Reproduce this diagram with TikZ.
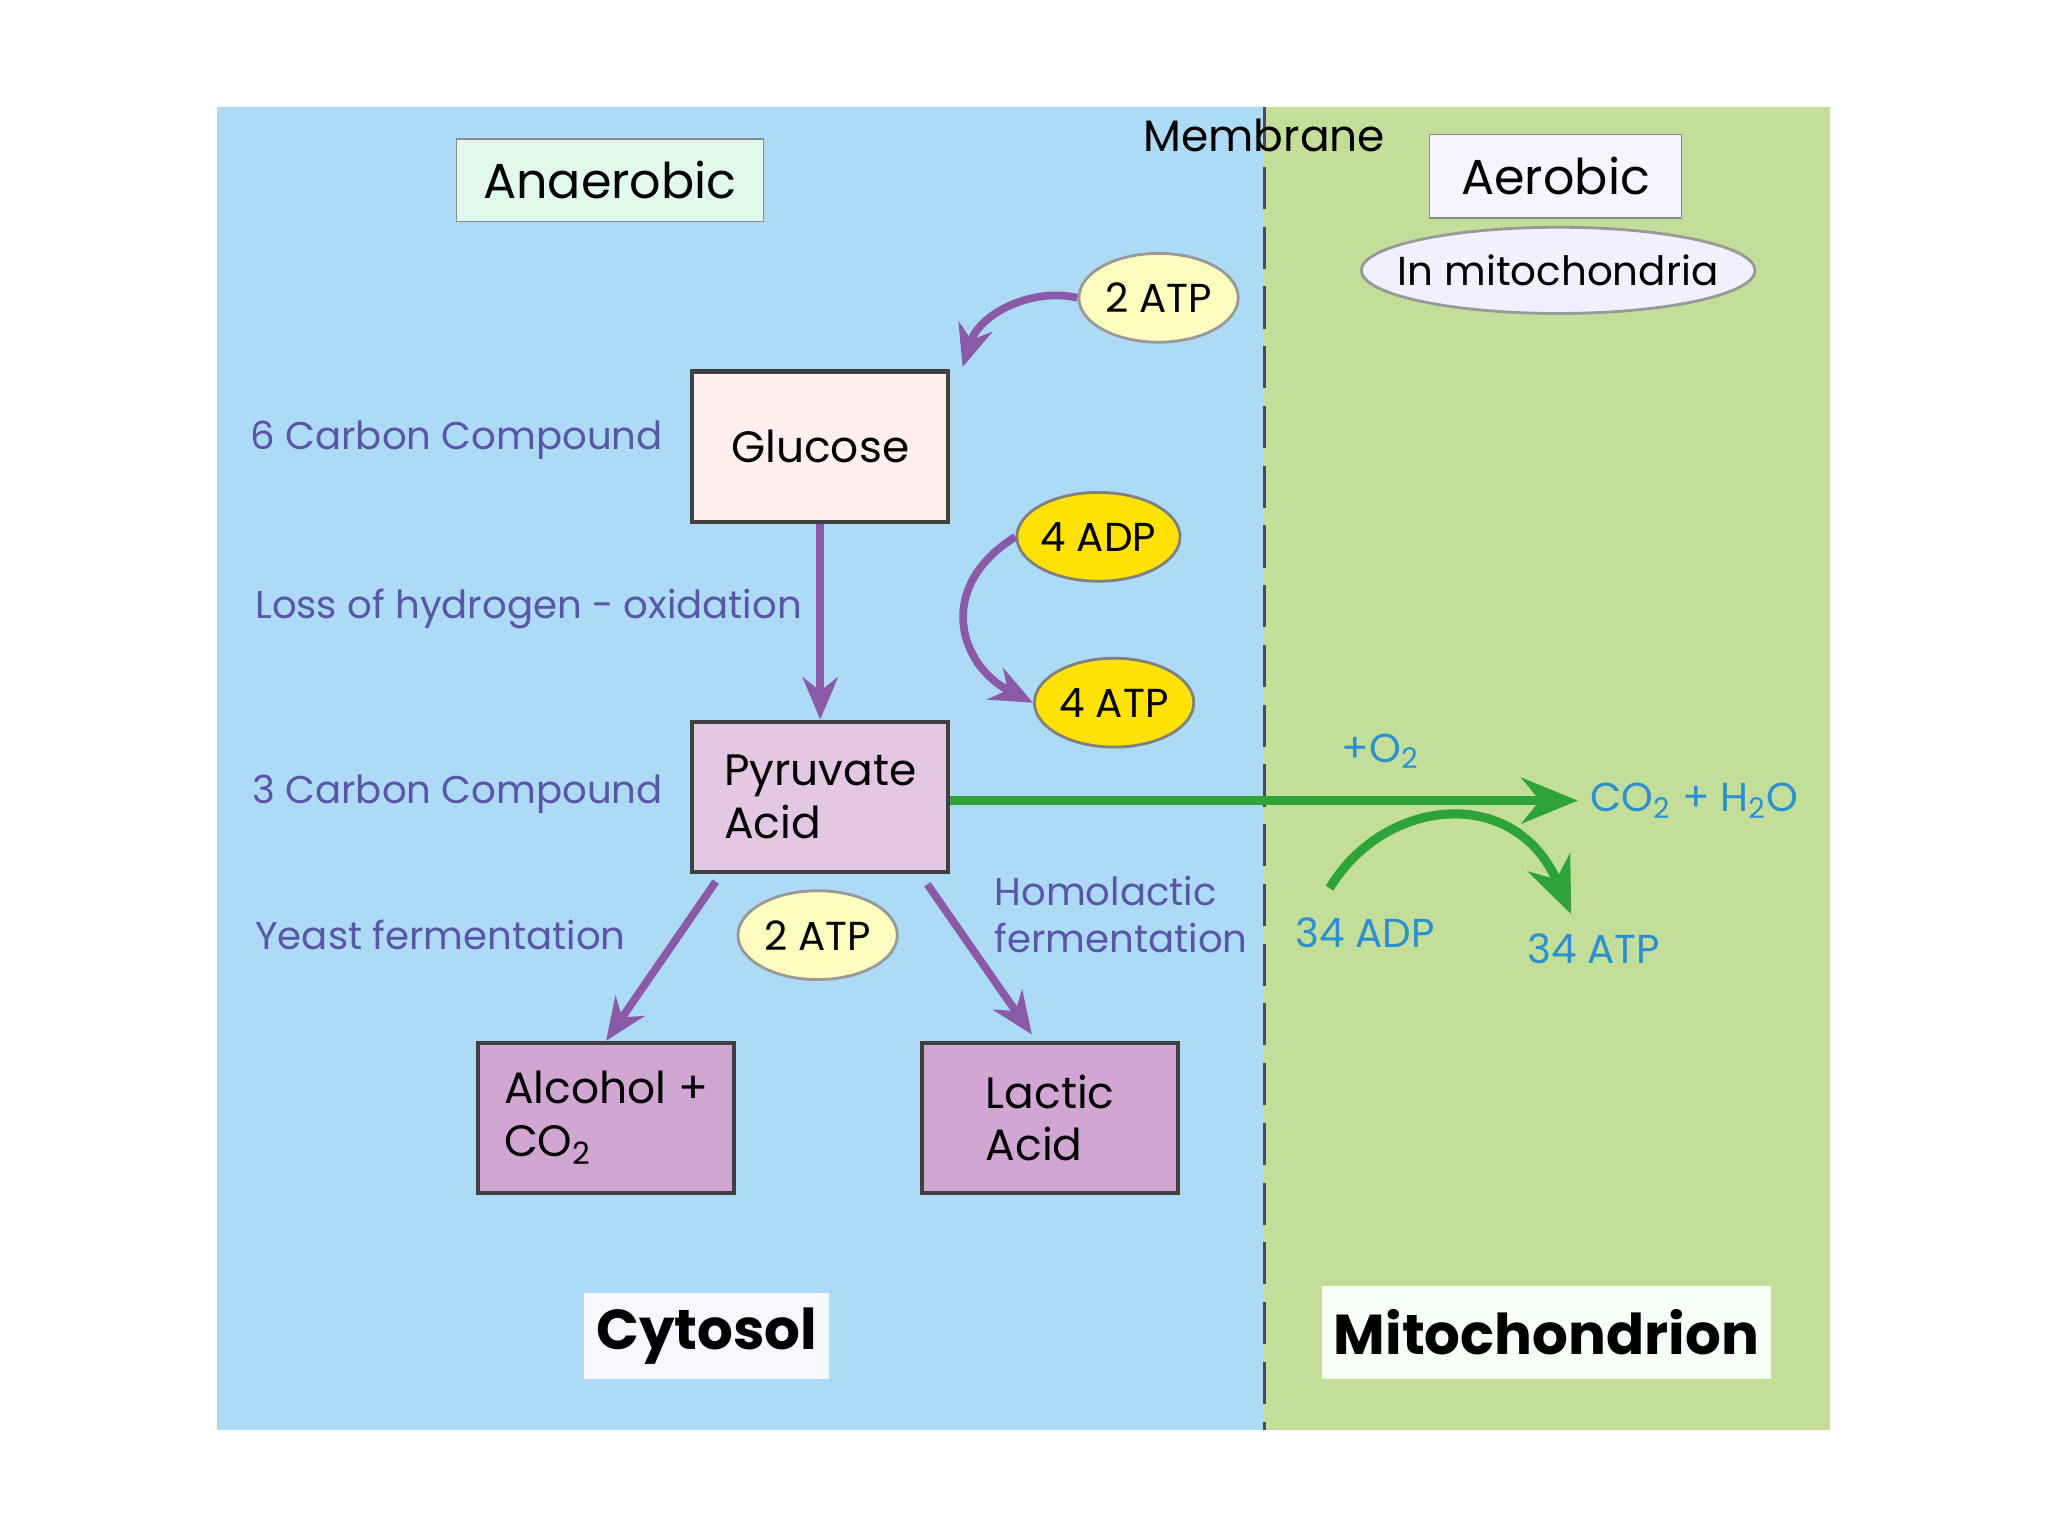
\documentclass[tikz,border=0pt]{standalone}
\usepackage{fontspec}
\setmainfont{Poppins}
\usetikzlibrary{shapes.geometric,arrows.meta}
\definecolor{bl}{HTML}{ADDAF5}
\definecolor{gr}{HTML}{C3DE98}
\definecolor{lab}{HTML}{5A55A8}
\definecolor{cy}{HTML}{2C8FD2}
\definecolor{pu}{HTML}{8A5AA8}
\definecolor{ag}{HTML}{2EA33A}
\begin{document}
\begin{tikzpicture}[x=0.01306cm,y=-0.01306cm,
 box/.style={draw=black!75,line width=1.2pt,minimum width=196*0.01306cm,minimum height=115*0.01306cm,font=\fontsize{12.5}{15}\selectfont,align=left},
 ell/.style={ellipse,draw=black!40,line width=0.8pt,minimum width=122*0.01306cm,minimum height=68*0.01306cm,font=\fontsize{11.5}{14}\selectfont,inner sep=0pt},
 lbl/.style={text=lab,font=\fontsize{11}{13.5}\selectfont},
 cl/.style={text=cy,font=\fontsize{11.5}{14}\selectfont},
 parr/.style={pu,line width=2.2pt,-{Stealth[length=12pt,width=10pt]}},
 garr/.style={ag,line width=2.6pt,-{Stealth[length=16pt,width=13pt]}}]
\useasboundingbox (0,0) rectangle (1568,1176);
\fill[white] (0,0) rectangle (1568,1176);
\fill[bl] (166,82) rectangle (968,1095);
\fill[gr] (968,82) rectangle (1401,1095);
\draw[black!70,line width=1pt,dash pattern=on 12pt off 5pt] (968,82) -- (968,1095);
\node[font=\fontsize{12.5}{15}\selectfont] (mem) at (968,104) {Membrane};
\node[draw=black!45,fill=green!8!white!85!bl,minimum width=235*0.01306cm,minimum height=63*0.01306cm,font=\fontsize{14}{17}\selectfont] (an) at (467,138) {Anaerobic};
\node[draw=black!45,fill=blue!4,minimum width=193*0.01306cm,minimum height=64*0.01306cm,font=\fontsize{14}{17}\selectfont] (ae) at (1191,135) {Aerobic};
\node[ell,fill=blue!6,minimum width=296*0.01306cm,minimum height=66*0.01306cm,inner xsep=-6pt] (inm) at (1193,207) {In mitochondria};
\node[ell,fill=yellow!25] (atp1) at (887,228) {2 ATP};
\node[box,fill=pink!25!white,align=center] (glu) at (628,342) {Glucose};
\node[ell,fill=yellow!85!orange,draw=black!50] (adp4) at (841,411) {4 ADP};
\node[ell,fill=yellow!85!orange,draw=black!50] (atp4) at (853,538) {4 ATP};
\node[box,fill=violet!22!white] (pyr) at (628,610) {Pyruvate\\Acid};
\node[box,fill=violet!35!white] (alc) at (464,856) {Alcohol +\\CO\textsubscript{2}};
\node[box,fill=violet!35!white] (lac) at (804,856) {Lactic\\Acid};
\node[ell,fill=yellow!25] (atp2) at (626,716) {2 ATP};
\node[lbl,anchor=east] (c6) at (517,337) {6 Carbon Compound};
\node[lbl,anchor=west] (loss) at (186,466) {Loss of hydrogen - oxidation};
\node[lbl,anchor=east] (c3) at (517,608) {3 Carbon Compound};
\node[lbl,anchor=west] (yeast) at (186,716) {Yeast fermentation};
\node[lbl,anchor=west,align=left] (homo) at (752,700) {Homolactic\\fermentation};
\node[cl] (o2) at (1057,575) {+O\textsubscript{2}};
\node[cl,anchor=west] (co2) at (1208,613) {CO\textsubscript{2} + H\textsubscript{2}O};
\node[cl] (adp34) at (1045,714) {34 ADP};
\node[cl] (atp34) at (1220,726) {34 ATP};
\coordinate (g1) at (1018,680);
\draw[garr] (pyr.east |- co2.west) -- (co2.west);
\draw[garr] (g1) .. controls (1060,610) and (1160,600) .. (1203,700);
\draw[parr] (atp1.west) .. controls (790,220) and (750,240) .. (737,281);
\draw[parr] (glu.south) -- (pyr.north);
\draw[parr] (adp4.west) .. controls (715,450) and (735,510) .. (atp4.west);
\draw[parr] (548,675) -- (alc.north);
\draw[parr] (710,677) -- (790,792);
\node[fill=blue!3,minimum width=184*0.01306cm,minimum height=66*0.01306cm,font=\bfseries\fontsize{16}{19}\selectfont] (cyt) at (541,1023) {Cytosol};
\node[fill=green!4!white,minimum width=333*0.01306cm,minimum height=71*0.01306cm,font=\bfseries\fontsize{16}{19}\selectfont] (mito) at (1184,1020) {Mitochondrion};
\end{tikzpicture}
\end{document}
